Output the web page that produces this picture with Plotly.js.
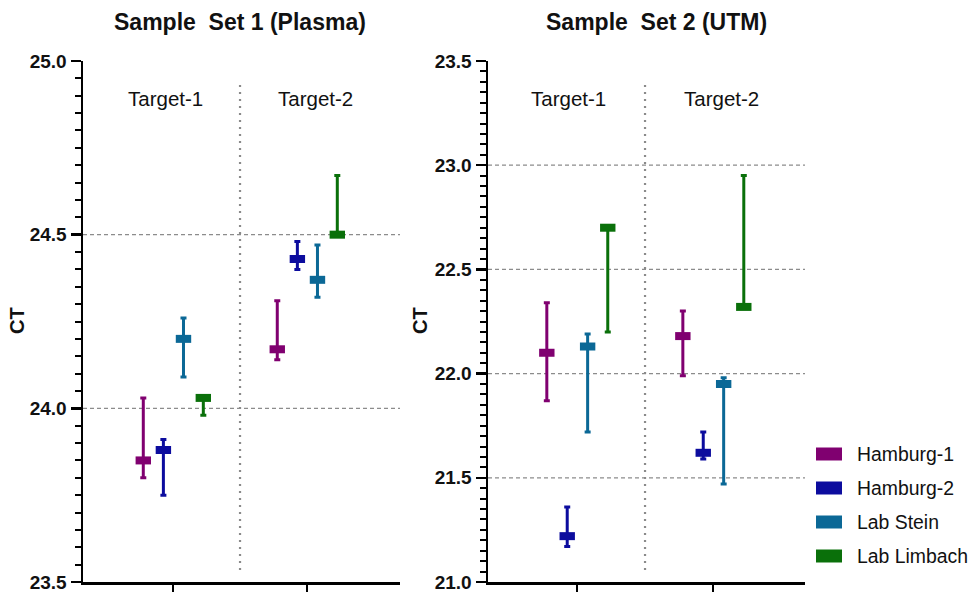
<!DOCTYPE html>
<html>
<head>
<meta charset="utf-8">
<script src="https://cdn.plot.ly/plotly-3.0.1.min.js"></script>
<style>html,body{margin:0;padding:0;background:#fff;}#chart{width:968px;height:592px;}</style>
</head>
<body>
<div id="chart"></div>
<script>
// ---------------- data ----------------
var targets = ["Target-1", "Target-2"];
var seriesNames = ["Hamburg-1", "Hamburg-2", "Lab Stein", "Lab Limbach"];
var seriesColors = ["#800070", "#0C0C9E", "#0B6896", "#0A700A"];

var panelTitles = ["Sample\u00A0 Set 1 (Plasma)", "Sample\u00A0 Set 2 (UTM)"];

// Sample Set 1 (Plasma): [Target-1, Target-2]
var plasmaMedian = [[23.85, 24.17], [23.88, 24.43], [24.20, 24.37], [24.03, 24.50]];
var plasmaHigh   = [[24.03, 24.31], [23.91, 24.48], [24.26, 24.47], [24.03, 24.67]];
var plasmaLow    = [[23.80, 24.14], [23.75, 24.40], [24.09, 24.32], [23.98, 24.50]];

// Sample Set 2 (UTM)
var utmMedian = [[22.10, 22.18], [21.22, 21.62], [22.13, 21.95], [22.70, 22.32]];
var utmHigh   = [[22.34, 22.30], [21.36, 21.72], [22.19, 21.98], [22.70, 22.95]];
var utmLow    = [[21.87, 21.99], [21.17, 21.59], [21.72, 21.47], [22.20, 22.32]];

var yRanges = [[23.5, 25.0], [21.0, 23.5]];
var gridVals = [[24.0, 24.5], [21.5, 22.0, 22.5, 23.0]];

// ---------------- styling / layout ----------------
var W = 968, H = 592;
var FONT = "Arial, 'Liberation Sans', sans-serif";
var dodge = [-0.222, -0.072, 0.078, 0.226];
var targetPos = targets.map(function (t, i) { return i + 1; });

var panels = [
  {med: plasmaMedian, hi: plasmaHigh, lo: plasmaLow, xa: "x", ya: "y"},
  {med: utmMedian, hi: utmHigh, lo: utmLow, xa: "x2", ya: "y2"}
];

var traces = [];
panels.forEach(function (p) {
  seriesNames.forEach(function (name, s) {
    var med = p.med[s];
    traces.push({
      type: "scatter",
      mode: "markers",
      name: name,
      showlegend: false,
      xaxis: p.xa, yaxis: p.ya,
      x: targetPos.map(function (t) { return t + dodge[s]; }),
      y: med,
      marker: {symbol: "line-ew-open", size: 11, color: seriesColors[s],
               line: {width: 8, color: seriesColors[s]}},
      error_y: {type: "data", symmetric: false,
                array: med.map(function (m, i) { return p.hi[s][i] - m; }),
                arrayminus: med.map(function (m, i) { return m - p.lo[s][i]; }),
                color: seriesColors[s], thickness: 3, width: 3}
    });
  });
});

function px(x) { return x / W; }
function py(y) { return (H - y) / H; }

var yDom = [py(582), py(61)];
function xAxis(dom, range, anchor) {
  return {domain: dom, range: range, anchor: anchor, tickvals: targetPos, showticklabels: false,
          ticks: "outside", ticklen: 10, tickwidth: 2.5, tickcolor: "#000",
          showline: true, linewidth: 2.5, linecolor: "#000", showgrid: false, zeroline: false, fixedrange: true};
}
function yAxis(range, anchor) {
  return {domain: yDom, range: range, anchor: anchor, dtick: 0.5, tick0: 0, tickformat: ".1f",
          ticks: "outside", ticklen: 10, tickwidth: 2.5, tickcolor: "#000",
          minor: {dtick: 0.05, ticks: "outside", ticklen: 6, tickwidth: 2, tickcolor: "#000", showgrid: false},
          tickfont: {family: FONT, size: 19, color: "#111", weight: "bold"},
          ticklabeloverflow: "allow",
          showline: true, linewidth: 2.5, linecolor: "#000", showgrid: false, zeroline: false, fixedrange: true};
}

var shapes = [], annotations = [];
var axNames = [["x", "y"], ["x2", "y2"]];
var titleX = [240, 656];
gridVals.forEach(function (vals, p) {
  vals.forEach(function (v) {
    shapes.push({type: "line", layer: "below", xref: axNames[p][0] + " domain", x0: 0, x1: 1,
                 yref: axNames[p][1], y0: v, y1: v, line: {color: "#8c8c8c", width: 1.3, dash: "4px,3px"}});
  });
  shapes.push({type: "line", layer: "below", xref: axNames[p][0], x0: 1.5, x1: 1.5,
               yref: axNames[p][1] + " domain", y0: 0.023, y1: 0.954,
               line: {color: "#8a8a8a", width: 2.2, dash: "2px,5px"}});
  targets.forEach(function (t, i) {
    annotations.push({xref: axNames[p][0], x: targetPos[i] + (i === 0 ? -0.06 : 0.06),
                      yref: "paper", y: py(98), text: t, showarrow: false,
                      xanchor: "center", yanchor: "middle",
                      font: {family: FONT, size: 20.5, color: "#111"}});
  });
  annotations.push({xref: "paper", x: px(titleX[p]), yref: "paper", y: py(22), text: panelTitles[p],
                    showarrow: false, xanchor: "center", yanchor: "middle",
                    font: {family: FONT, size: 23, color: "#111", weight: "bold"}});
});
[17, 420].forEach(function (xx) {
  annotations.push({xref: "paper", x: px(xx), yref: "paper", y: py(321), text: "CT", textangle: -90,
                    showarrow: false, xanchor: "center", yanchor: "middle",
                    font: {family: FONT, size: 20, color: "#111", weight: "bold"}});
});
seriesNames.forEach(function (name, s) {
  var cy = 454 + 34 * s;
  shapes.push({type: "rect", xref: "paper", yref: "paper", x0: px(816), x1: px(842),
               y0: py(cy + 6.5), y1: py(cy - 6.5), fillcolor: seriesColors[s], line: {width: 0}});
  annotations.push({xref: "paper", x: px(855), yref: "paper", y: py(cy), text: name, showarrow: false,
                    xanchor: "left", yanchor: "middle", font: {family: FONT, size: 19.4, color: "#111"}});
});

var layout = {
  width: W, height: H,
  margin: {l: 0, r: 0, t: 0, b: 0},
  paper_bgcolor: "#fff", plot_bgcolor: "#fff",
  showlegend: false,
  xaxis: xAxis([px(83), px(400)], [0.328, 2.694], "y"),
  yaxis: yAxis(yRanges[0], "x"),
  xaxis2: xAxis([px(488), px(805)], [0.3456, 2.676], "y2"),
  yaxis2: yAxis(yRanges[1], "x2"),
  shapes: shapes,
  annotations: annotations
};

Plotly.newPlot("chart", traces, layout, {displayModeBar: false, staticPlot: true});
</script>
</body>
</html>
